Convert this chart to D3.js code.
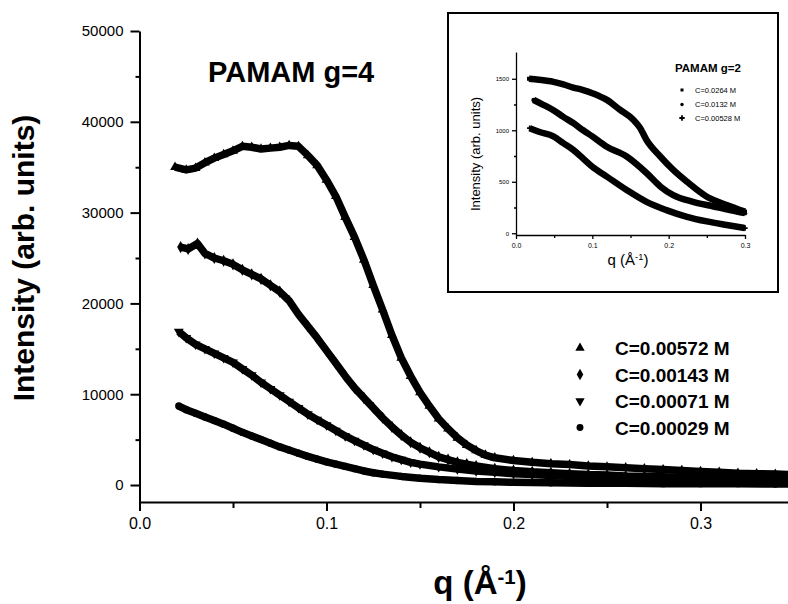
<!DOCTYPE html>
<html>
<head>
<meta charset="utf-8">
<script src="https://cdn.jsdelivr.net/npm/d3@7"></script>
<style>
  body { margin: 0; background: #fff; }
  text { font-family: "Liberation Sans", Arial, sans-serif; fill: #000; }
</style>
</head>
<body>
<div id="chart"></div>
<script>
// ---- main plot data (PAMAM g=4) ----
const seriesNames = ["C=0.00572 M", "C=0.00143 M", "C=0.00071 M", "C=0.00029 M"];

const qA = [0.019,0.025,0.03,0.035,0.04,0.045,0.05,0.055,0.06,0.065,0.07,0.075,0.08,0.085,0.09,0.095,0.10,0.105,0.11,0.115,0.12,0.125,0.13,0.135,0.14,0.145,0.15,0.155,0.16,0.165,0.17,0.175,0.18,0.185,0.19,0.20,0.21,0.22,0.23,0.24,0.25,0.26,0.27,0.28,0.29,0.30,0.31,0.32,0.33,0.34,0.35];
const intA = [35000,34700,34900,35500,36000,36400,36800,37300,37200,37000,37100,37200,37400,37300,36300,35200,33600,31800,29500,27300,24800,22000,19300,16500,14000,12000,10200,8700,7300,6200,5200,4400,3800,3300,3000,2700,2500,2350,2250,2100,2000,1900,1800,1700,1600,1500,1400,1300,1250,1200,1150];

const qB = [0.022,0.026,0.031,0.035,0.04,0.045,0.05,0.055,0.06,0.065,0.07,0.075,0.08,0.085,0.09,0.095,0.10,0.105,0.11,0.115,0.12,0.125,0.13,0.135,0.14,0.145,0.15,0.155,0.16,0.165,0.17,0.175,0.18,0.19,0.20,0.21,0.22,0.23,0.24,0.25,0.26,0.27,0.28,0.29,0.30,0.31,0.32,0.33,0.34,0.35];
const intB = [26200,26000,26600,25500,25000,24700,24300,23700,23200,22700,22000,21300,20300,18800,17500,16200,14800,13400,12000,10700,9600,8500,7400,6400,5500,4700,4100,3600,3100,2800,2500,2300,2100,1800,1600,1450,1350,1250,1150,1100,1000,950,900,850,800,750,750,700,700,650];

const qC = [0.021,0.025,0.03,0.035,0.04,0.045,0.05,0.055,0.06,0.065,0.07,0.075,0.08,0.085,0.09,0.095,0.10,0.105,0.11,0.115,0.12,0.125,0.13,0.135,0.14,0.145,0.15,0.16,0.17,0.18,0.19,0.20,0.21,0.22,0.23,0.24,0.25,0.26,0.27,0.28,0.29,0.30,0.31,0.32,0.33,0.34,0.35];
const intC = [16900,16200,15500,15000,14500,14000,13500,12800,12100,11300,10600,9900,9200,8500,7800,7200,6600,6000,5400,4900,4400,3900,3500,3100,2800,2500,2300,2000,1750,1550,1400,1250,1150,1050,950,900,850,800,750,700,700,650,600,600,550,550,500];

const qD = [0.021,0.025,0.03,0.035,0.04,0.045,0.05,0.055,0.06,0.065,0.07,0.075,0.08,0.085,0.09,0.095,0.10,0.105,0.11,0.115,0.12,0.125,0.13,0.14,0.15,0.16,0.17,0.18,0.19,0.20,0.22,0.24,0.26,0.28,0.30,0.32,0.34,0.35];
const intD = [8700,8300,7900,7500,7100,6700,6250,5800,5400,5000,4600,4200,3850,3500,3150,2850,2550,2300,2050,1800,1550,1350,1200,950,750,600,500,400,350,300,250,200,200,150,150,150,100,100];

const xTicks = [0, 0.1, 0.2, 0.3];
const xMinor = [0.05, 0.15, 0.25];
const yTicks = [0, 10000, 20000, 30000, 40000, 50000];
const yMinor = [5000, 15000, 25000, 35000, 45000];

// ---- inset data (PAMAM g=2) ----
const insetNames = ["C=0.0264 M", "C=0.0132 M", "C=0.00528 M"];
const qIn1 = [0.017,0.03,0.049,0.062,0.075,0.088,0.10,0.119,0.136,0.154,0.162,0.171,0.189,0.206,0.224,0.25,0.276,0.30];
const intIn1 = [1500,1490,1470,1445,1415,1390,1360,1295,1200,1100,1030,905,745,615,500,355,275,210];
const qIn2 = [0.023,0.035,0.049,0.062,0.075,0.088,0.10,0.119,0.145,0.171,0.189,0.206,0.232,0.259,0.28,0.30];
const intIn2 = [1295,1250,1195,1130,1070,1000,940,840,745,585,455,370,305,260,225,195];
const qIn3 = [0.018,0.03,0.049,0.062,0.075,0.088,0.10,0.119,0.145,0.171,0.197,0.224,0.25,0.276,0.30];
const intIn3 = [1020,985,940,875,810,725,645,550,420,305,225,160,115,80,50];

const insetXTicks = [0, 0.1, 0.2, 0.3];
const insetXMinor = [0.05, 0.15, 0.25];
const insetYTicks = [0, 500, 1000, 1500];
const insetYMinor = [250, 750, 1250];

const W = 788, H = 604;
const svg = d3.select("#chart").append("svg")
    .attr("width", W).attr("height", H)
    .style("display", "block");
svg.append("rect").attr("width", W).attr("height", H).attr("fill", "#fff");

// scales for the main plot
const x = d3.scaleLinear().domain([0, 0.35]).range([139.5, 794]);
const y = d3.scaleLinear().domain([-1870, 50000]).range([502, 31]);

function styleAxis(g, w) {
  g.selectAll("path.domain").attr("stroke", "#000").attr("stroke-width", w);
  g.selectAll(".tick line").attr("stroke", "#000").attr("stroke-width", w);
}

// x axis
const gx = svg.append("g").attr("transform", "translate(0,502)")
    .call(d3.axisBottom(x).tickValues(xTicks).tickFormat(d3.format(".1f"))
      .tickSize(9).tickSizeOuter(0).tickPadding(7));
gx.selectAll("text").attr("font-size", 16);
styleAxis(gx, 2);
const gxm = svg.append("g").attr("transform", "translate(0,502)")
    .call(d3.axisBottom(x).tickValues(xMinor).tickFormat("").tickSize(6).tickSizeOuter(0));
gxm.select("path.domain").remove();
styleAxis(gxm, 2);

// y axis
const gy = svg.append("g").attr("transform", "translate(139.5,0)")
    .call(d3.axisLeft(y).tickValues(yTicks).tickFormat(d3.format("d"))
      .tickSize(9).tickSizeOuter(0).tickPadding(7));
gy.selectAll("text").attr("font-size", 15);
styleAxis(gy, 2);
const gym = svg.append("g").attr("transform", "translate(139.5,0)")
    .call(d3.axisLeft(y).tickValues(yMinor).tickFormat("").tickSize(4).tickSizeOuter(0));
gym.select("path.domain").remove();
styleAxis(gym, 2);

// axis titles
svg.append("text")
    .attr("transform", "translate(34,258) rotate(-90)")
    .attr("text-anchor", "middle")
    .attr("font-size", 30).attr("font-weight", "bold")
    .text("Intensity (arb. units)");

const xt = svg.append("text")
    .attr("x", 480).attr("y", 594)
    .attr("text-anchor", "middle")
    .attr("font-size", 33).attr("font-weight", "bold");
xt.append("tspan").text("q (Å");
xt.append("tspan").attr("dy", "-0.5em").attr("font-size", "0.62em").text("-1");
xt.append("tspan").attr("dy", "0.31em").text(")");

svg.append("text")
    .attr("x", 208).attr("y", 82)
    .attr("font-size", 29).attr("font-weight", "bold")
    .text("PAMAM g=4");

// series
const symbols = [d3.symbolTriangle, d3.symbolDiamond, d3.symbolTriangle, d3.symbolCircle];
const rotations = [0, 0, 180, 0];
const mainData = [
  d3.zip(qA, intA), d3.zip(qB, intB), d3.zip(qC, intC), d3.zip(qD, intD)
];

const line = d3.line().x(d => x(d[0])).y(d => y(d[1]));

const gData = svg.append("g");
mainData.forEach((pts, i) => {
  gData.append("path")
      .attr("d", line(pts))
      .attr("fill", "none").attr("stroke", "#000")
      .attr("stroke-width", 7.5).attr("stroke-linejoin", "round");
  gData.selectAll(null).data(pts).enter().append("path")
      .attr("d", d3.symbol().type(symbols[i]).size(42))
      .attr("transform", d => `translate(${x(d[0])},${y(d[1])}) rotate(${rotations[i]})`)
      .attr("fill", "#000");
});

// legend
const legend = svg.append("g");
seriesNames.forEach((name, i) => {
  const cy = 348 + i * 26.5;
  legend.append("path")
      .attr("d", d3.symbol().type(symbols[i]).size(38))
      .attr("transform", `translate(580,${cy}) rotate(${rotations[i]})`)
      .attr("fill", "#000");
  legend.append("text")
      .attr("x", 615).attr("y", cy + 7)
      .attr("font-size", 19).attr("font-weight", "bold")
      .text(name);
});

// ---- inset ----
const inset = svg.append("g");
inset.append("rect")
    .attr("x", 448).attr("y", 13).attr("width", 330).attr("height", 279)
    .attr("fill", "#fff").attr("stroke", "#000").attr("stroke-width", 2);

const xi = d3.scaleLinear().domain([0, 0.3]).range([516, 745]);
const yi = d3.scaleLinear().domain([-17, 1760]).range([235, 52]);

const gxi = inset.append("g").attr("transform", "translate(0,235)")
    .call(d3.axisBottom(xi).tickValues(insetXTicks).tickFormat(d3.format(".1f"))
      .tickSize(4).tickSizeOuter(0).tickPadding(4));
gxi.selectAll("text").attr("font-size", 7);
styleAxis(gxi, 1.3);
const gxim = inset.append("g").attr("transform", "translate(0,235)")
    .call(d3.axisBottom(xi).tickValues(insetXMinor).tickFormat("").tickSize(3).tickSizeOuter(0));
gxim.select("path.domain").remove();
styleAxis(gxim, 1.3);

const gyi = inset.append("g").attr("transform", "translate(516,0)")
    .call(d3.axisLeft(yi).tickValues(insetYTicks).tickFormat(d3.format("d"))
      .tickSize(4).tickSizeOuter(0).tickPadding(3));
gyi.selectAll("text").attr("font-size", 6);
styleAxis(gyi, 1.3);
const gyim = inset.append("g").attr("transform", "translate(516,0)")
    .call(d3.axisLeft(yi).tickValues(insetYMinor).tickFormat("").tickSize(2).tickSizeOuter(0));
gyim.select("path.domain").remove();
styleAxis(gyim, 1.3);

inset.append("text")
    .attr("transform", "translate(480,154) rotate(-90)")
    .attr("text-anchor", "middle")
    .attr("font-size", 13)
    .text("Intensity (arb. units)");

const xti = inset.append("text")
    .attr("x", 628).attr("y", 265)
    .attr("text-anchor", "middle")
    .attr("font-size", 15);
xti.append("tspan").text("q (Å");
xti.append("tspan").attr("dy", "-0.5em").attr("font-size", "0.62em").text("-1");
xti.append("tspan").attr("dy", "0.31em").text(")");

const insetSymbols = [d3.symbolSquare, d3.symbolCircle, d3.symbolCross];
const insetData = [d3.zip(qIn1, intIn1), d3.zip(qIn2, intIn2), d3.zip(qIn3, intIn3)];
const linei = d3.line().x(d => xi(d[0])).y(d => yi(d[1])).curve(d3.curveMonotoneX);

insetData.forEach((pts, i) => {
  inset.append("path")
      .attr("d", linei(pts))
      .attr("fill", "none").attr("stroke", "#000")
      .attr("stroke-width", 6.5).attr("stroke-linejoin", "round");
  inset.selectAll(null).data(pts).enter().append("path")
      .attr("d", d3.symbol().type(insetSymbols[i]).size(16))
      .attr("transform", d => `translate(${xi(d[0])},${yi(d[1])})`)
      .attr("fill", "#000");
});

inset.append("text")
    .attr("x", 675).attr("y", 72)
    .attr("font-size", 11.5).attr("font-weight", "bold")
    .text("PAMAM g=2");
insetNames.forEach((name, i) => {
  const cy = [90, 104.5, 118][i];
  inset.append("path")
      .attr("d", d3.symbol().type(insetSymbols[i]).size(i === 2 ? 16 : 9))
      .attr("transform", `translate(682,${cy})`)
      .attr("fill", "#000");
  inset.append("text")
      .attr("x", 695).attr("y", cy + 2.8)
      .attr("font-size", 7.5)
      .text(name);
});
</script>
</body>
</html>
